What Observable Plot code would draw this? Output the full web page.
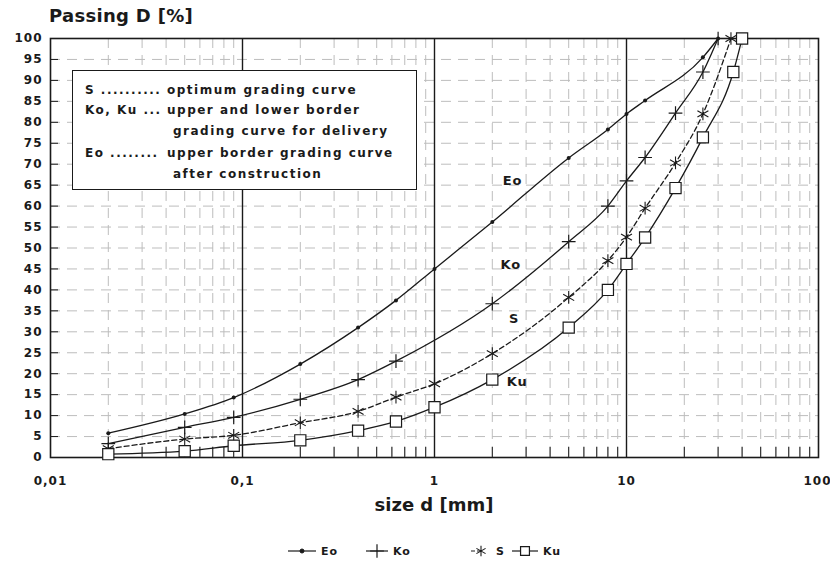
<!DOCTYPE html>
<html>
<head>
<meta charset="utf-8">
<script src="https://cdn.jsdelivr.net/npm/d3@7"></script>
<script src="https://cdn.jsdelivr.net/npm/@observablehq/plot@0.6"></script>
<style>
  html, body { margin: 0; padding: 0; background: #fff; }
  #wrap { position: relative; width: 830px; height: 562px; overflow: hidden;
          font-family: "DejaVu Sans", "Liberation Sans", sans-serif; font-weight: bold; color: #1a1a1a; }
  #wrap > svg { position: absolute; left: 0; top: 0; }
  .ov { position: absolute; white-space: nowrap; }
  #title { left: 49px; top: 5px; font-size: 18px; letter-spacing: 0.3px; }
  #xlabel { left: 0; width: 868px; top: 494px; text-align: center; font-size: 18px; }
  #box { left: 72px; top: 70px; width: 345px; height: 120px; border: 1.6px solid #1a1a1a; background: #fff; box-sizing: border-box; }
  .bl { position: absolute; font-size: 12px; letter-spacing: 1.5px; line-height: 14px; }
  .leg { position: absolute; top: 542px; height: 18px; display: flex; align-items: center; font-size: 11px; letter-spacing: 1px; }
  .leg svg { display: block; margin-right: 5px; }
</style>
</head>
<body>
<div id="wrap"></div>
<script>
// ---- data ----
const eoX = [0.02, 0.05, 0.09, 0.2, 0.4, 0.63, 1, 2, 5, 8, 10, 12.5, 25, 30];
const eoY = [5.8, 10.4, 14.3, 22.3, 31, 37.5, 45, 56.2, 71.5, 78.3, 82, 85.2, 95.5, 100];

const koX = [0.02, 0.05, 0.09, 0.2, 0.4, 0.63, 2, 5, 8, 10, 12.5, 18, 25, 30];
const koY = [3.3, 7.2, 9.6, 13.9, 18.6, 23, 36.7, 51.5, 60, 66, 71.6, 82.2, 92, 100];

const sX = [0.02, 0.05, 0.09, 0.2, 0.4, 0.63, 1, 2, 5, 8, 10, 12.5, 18, 25, 35];
const sY = [2.1, 4.4, 5.3, 8.3, 11, 14.4, 17.6, 24.8, 38.2, 47, 52.6, 59.5, 70.3, 82, 100];

const kuX = [0.02, 0.05, 0.09, 0.2, 0.4, 0.63, 1, 2, 5, 8, 10, 12.5, 18, 25, 36, 40];
const kuY = [0.8, 1.5, 2.8, 4.1, 6.4, 8.6, 12, 18.6, 31, 40, 46.2, 52.5, 64.3, 76.4, 92, 100];

const curveNames = ["Eo", "Ko", "S", "Ku"];
const curveLabelX = [2.55, 2.5, 2.6, 2.7];
const curveLabelY = [66, 46, 33.2, 18.1];

const xMajor = [0.01, 0.1, 1, 10];
const xLast = [100];
const xDecadeLines = [0.1, 1, 10];
const xMultipliers = [2, 3, 4, 5, 6, 7, 8, 9];
const xMinor = [0.01, 0.1, 1, 10].flatMap(d => xMultipliers.map(m => +(d * m).toPrecision(2)));
const yTicks = [0, 5, 10, 15, 20, 25, 30, 35, 40, 45, 50, 55, 60, 65, 70, 75, 80, 85, 90, 95, 100];
const yGrid = yTicks.filter(v => v > 0 && v < 100);

const titleText = "Passing D [%]";
const xLabelText = "size d [mm]";
const boxLines = [
  ["S ..........", "optimum grading curve"],
  ["Ko, Ku ...", "upper and lower border"],
  ["", "grading curve for delivery"],
  ["Eo ........", "upper border grading curve"],
  ["", "after construction"]
];

// ---- chart ----
const ink = "#1a1a1a";
const grid = "#bdbdbd";
const fmt = d => String(d).replace(".", ",");
const chart = Plot.plot({
  width: 830,
  height: 562,
  marginTop: 38,
  marginBottom: 105,
  marginLeft: 50,
  marginRight: 12,
  x: { type: "log", domain: [0.01, 100] },
  y: { domain: [0, 100] },
  style: { fontFamily: "DejaVu Sans, Liberation Sans, sans-serif", fontWeight: "bold", fontSize: "12px", color: ink, letterSpacing: "1px", background: "transparent" },
  marks: [
    Plot.ruleX(xMinor, { stroke: grid, strokeDasharray: "10,7", strokeWidth: 1 }),
    Plot.ruleY(yGrid, { stroke: grid, strokeDasharray: "10,7", strokeWidth: 1 }),
    Plot.ruleX(xDecadeLines, { stroke: ink, strokeWidth: 1.4 }),
    Plot.axisY({ ticks: yTicks, tickSize: -8, tickPadding: 16, label: null, fontSize: 12, tickFormat: d => String(d) }),
    Plot.axisX({ ticks: xMajor, tickSize: 0, tickPadding: 19, label: null, fontSize: 12, tickFormat: fmt }),
    Plot.axisX({ ticks: xLast, tickSize: 0, tickPadding: 19, label: null, fontSize: 12, tickFormat: fmt, textAnchor: "end", dx: 13 }),
    Plot.axisX({ ticks: xMinor, tickSize: -10, tickFormat: () => "", label: null }),
    Plot.frame({ stroke: ink, strokeWidth: 1.6 }),
    Plot.line(eoX, { x: eoX, y: eoY, curve: "monotone-x", stroke: ink, strokeWidth: 1.3 }),
    Plot.line(koX, { x: koX, y: koY, curve: "monotone-x", stroke: ink, strokeWidth: 1.3 }),
    Plot.line(sX, { x: sX, y: sY, curve: "monotone-x", stroke: ink, strokeWidth: 1.3, strokeDasharray: "5,3" }),
    Plot.line(kuX, { x: kuX, y: kuY, curve: "monotone-x", stroke: ink, strokeWidth: 1.3 }),
    Plot.dot(eoX, { x: eoX, y: eoY, r: 2, fill: ink }),
    Plot.dot(koX, { x: koX, y: koY, symbol: "plus", r: 4.5, stroke: ink, strokeWidth: 1.2 }),
    Plot.dot(sX, { x: sX, y: sY, symbol: "asterisk", r: 6, stroke: ink, strokeWidth: 1.1 }),
    Plot.dot(kuX, { x: kuX, y: kuY, symbol: "square", r: 6.3, fill: "#fff", stroke: ink, strokeWidth: 1.2 }),
    Plot.text(curveNames, { x: curveLabelX, y: curveLabelY, text: d => d, fontSize: 13, fill: ink })
  ]
});

const wrap = document.getElementById("wrap");
wrap.appendChild(chart);

function addDiv(id, cls, text) {
  const d = document.createElement("div");
  if (id) d.id = id;
  d.className = cls;
  if (text != null) d.textContent = text;
  wrap.appendChild(d);
  return d;
}
addDiv("title", "ov", titleText);
addDiv("xlabel", "ov", xLabelText);

// explanation box inside the plot
const box = addDiv("box", "ov", null);
const lineTops = [12, 32, 53, 75, 96];
boxLines.forEach(([a, b], i) => {
  if (a) {
    const s = document.createElement("div");
    s.className = "bl"; s.style.left = "12px"; s.style.top = lineTops[i] + "px"; s.textContent = a;
    box.appendChild(s);
  }
  const t = document.createElement("div");
  t.className = "bl";
  t.style.left = (a ? 94 : 100) + "px";
  t.style.top = lineTops[i] + "px";
  t.textContent = b;
  box.appendChild(t);
});

// bottom legend
const ns = "http://www.w3.org/2000/svg";
const legendItems = [
  { name: "Eo", left: 288, w: 28, sym: "dot" },
  { name: "Ko", left: 366, w: 22, sym: "plus" },
  { name: "S", left: 471, w: 20, sym: "asterisk" },
  { name: "Ku", left: 512, w: 26, sym: "square" }
];
legendItems.forEach(it => {
  const d = addDiv(null, "leg", null);
  d.style.left = it.left + "px";
  const svg = document.createElementNS(ns, "svg");
  svg.setAttribute("width", it.w); svg.setAttribute("height", 16);
  const g = document.createElementNS(ns, "g");
  g.setAttribute("transform", `translate(${it.w / 2},8)`);
  g.setAttribute("stroke", ink); g.setAttribute("fill", "none");
  const ln = document.createElementNS(ns, "line");
  ln.setAttribute("x1", -it.w / 2); ln.setAttribute("x2", it.sym === "asterisk" ? 0 : it.w / 2);
  ln.setAttribute("y1", 0); ln.setAttribute("y2", 0); ln.setAttribute("stroke-width", 1.2);
  if (it.sym === "asterisk") ln.setAttribute("stroke-dasharray", "4,2");
  g.appendChild(ln);
  const p = document.createElementNS(ns, "path");
  if (it.sym === "dot") { p.setAttribute("d", d3.symbol(d3.symbolCircle, Math.PI * 4)()); p.setAttribute("fill", ink); }
  if (it.sym === "plus") { p.setAttribute("d", d3.symbol(d3.symbolPlus, Math.PI * 4.5 * 4.5)()); p.setAttribute("stroke-width", 1.2); }
  if (it.sym === "asterisk") { p.setAttribute("d", d3.symbol(d3.symbolAsterisk, Math.PI * 5 * 5)()); p.setAttribute("stroke-width", 1.1); }
  if (it.sym === "square") { p.setAttribute("d", d3.symbol(d3.symbolSquare, Math.PI * 5 * 5)()); p.setAttribute("fill", "#fff"); p.setAttribute("stroke-width", 1.2); }
  g.appendChild(p);
  svg.appendChild(g);
  d.appendChild(svg);
  const s = document.createElement("span");
  s.textContent = it.name;
  d.appendChild(s);
});
</script>
</body>
</html>
